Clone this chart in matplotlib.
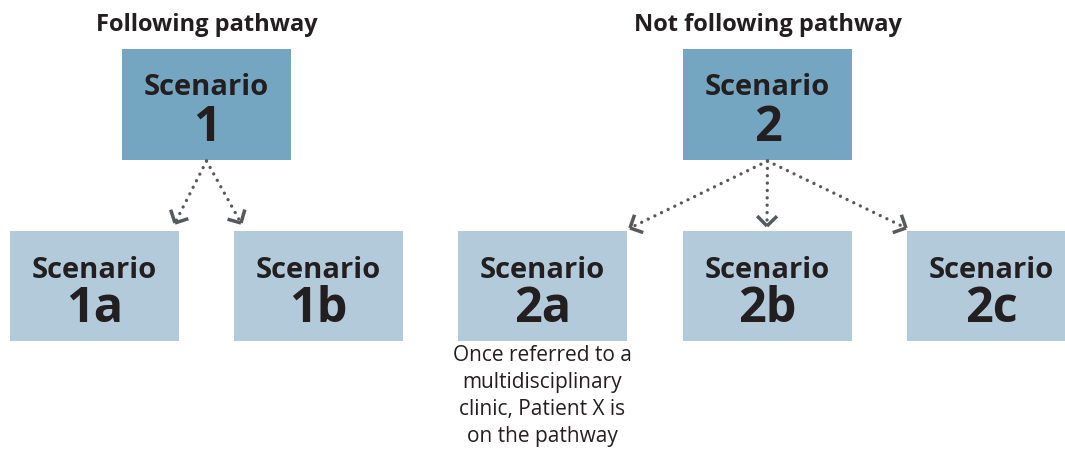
import numpy as np
import matplotlib
matplotlib.use('Agg')
import matplotlib.pyplot as plt
from matplotlib.patches import Rectangle

plt.rcParams['font.family'] = ['Open Sans', 'DejaVu Sans']

# text content
group_titles = ['Following pathway', 'Not following pathway']
top_labels = ['1', '2']
sub_labels = ['1a', '1b', '2a', '2b', '2c']
sub_parent = [0, 0, 1, 1, 1]
note_text = 'Once referred to a\nmultidisciplinary\nclinic, Patient X is\non the pathway'
note_box = 2

# layout (pixel units, y down)
top_x = [122, 683]
top_y = (49, 160)
box_w = 169
sub_x = [10, 234, 458, 683, 907]
sub_y = (231, 341)
arrow_ends = [(175, 223), (241, 223), (630, 228), (767, 226), (906, 228)]

dark_blue = '#74a6c2'
light_blue = '#b3cadb'
text_col = '#231f20'
arrow_col = '#58595b'

fig = plt.figure(figsize=(10.65, 4.53), dpi=100)
ax = fig.add_axes([0, 0, 1, 1])
ax.set_xlim(0, 1065)
ax.set_ylim(453, 0)
ax.axis('off')

for i, t in enumerate(group_titles):
    cx = top_x[i] + box_w / 2
    ax.text(cx, 25, t, ha='center', va='center', fontsize=17, fontweight='bold', color=text_col)
    ax.add_patch(Rectangle((top_x[i], top_y[0]), box_w, top_y[1] - top_y[0], color=dark_blue, lw=0))
    cy = (top_y[0] + top_y[1]) / 2
    ax.text(cx, cy - 17, 'Scenario', ha='center', va='center', fontsize=21, fontweight='bold', color=text_col)
    ax.text(cx, cy + 24, top_labels[i], ha='center', va='center', fontsize=35, fontweight='bold', color=text_col)

for i, lab in enumerate(sub_labels):
    cx = sub_x[i] + box_w / 2
    ax.add_patch(Rectangle((sub_x[i], sub_y[0]), box_w, sub_y[1] - sub_y[0], color=light_blue, lw=0))
    cy = (sub_y[0] + sub_y[1]) / 2
    ax.text(cx, cy - 16, 'Scenario', ha='center', va='center', fontsize=21, fontweight='bold', color=text_col)
    ax.text(cx, cy + 24, lab, ha='center', va='center', fontsize=35, fontweight='bold', color=text_col)

    # dotted arrow from parent
    p = sub_parent[i]
    sx, sy = top_x[p] + box_w / 2, top_y[1] + 1
    ex, ey = arrow_ends[i]
    ax.plot([sx, ex], [sy, ey], color=arrow_col, lw=2.4, ls=(0, (0.01, 2.2)),
            dash_capstyle='round', solid_capstyle='round')
    d = np.array([ex - sx, ey - sy], dtype=float)
    d /= np.hypot(*d)
    L = 14
    for ang in (np.pi / 4, -np.pi / 4):
        c, s = np.cos(ang), np.sin(ang)
        r = np.array([c * d[0] - s * d[1], s * d[0] + c * d[1]])
        ax.plot([ex, ex - L * r[0]], [ey, ey - L * r[1]], color=arrow_col, lw=2.5,
                solid_capstyle='butt')

cx = sub_x[note_box] + box_w / 2
ax.text(cx, 345, note_text, ha='center', va='top', fontsize=15, color=text_col, linespacing=1.38)

fig.savefig('out.png', dpi=100)
